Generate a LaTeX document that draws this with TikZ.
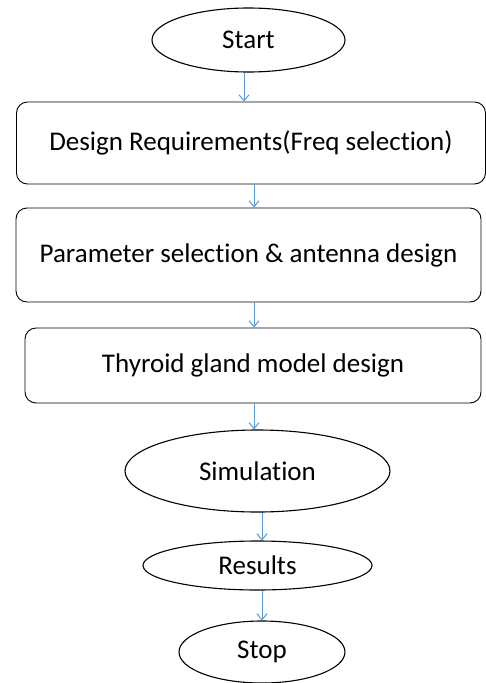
\documentclass[tikz,border=0pt]{standalone}
\usepackage{fontspec}
\setmainfont[Ligatures=NoCommon]{Carlito}
\usetikzlibrary{arrows.meta,shapes.geometric}
\begin{document}
\begin{tikzpicture}[x=1pt,y=-1pt,
  font=\fontsize{27}{31}\selectfont,
  oval/.style={ellipse,draw=black,line width=1.1pt,inner sep=0pt},
  rbox/.style={rectangle,rounded corners=11pt,draw=black,line width=0.9pt,inner sep=0pt},
  arr/.style={draw={rgb,255:red,91;green,155;blue,213},line width=1pt,-{Straight Barb[length=6pt,width=10pt]}}]
\useasboundingbox[fill=white] (0,0) rectangle (486,683);
\node[oval,minimum width=193pt,minimum height=64pt] (start) at (248.5,40) {Start};
\node[rbox,minimum width=469pt,minimum height=82pt] (b1) at (251,143) {Design Requirements(Freq selection)};
\node[rbox,minimum width=465pt,minimum height=94pt] (b2) at (248.5,255) {Parameter selection \& antenna design};
\node[rbox,minimum width=456pt,minimum height=75pt] (b3) at (253,365.5) {Thyroid gland model design};
\node[oval,minimum width=265pt,minimum height=82pt] (sim) at (257.5,471) {Simulation};
\node[oval,minimum width=229pt,minimum height=49pt] (res) at (257.5,565.5) {Results};
\node[oval,minimum width=166pt,minimum height=62pt] (stop) at (262,652) {Stop};
\draw[arr] ([xshift=-4.5pt]start.south) -- ([xshift=-4.5pt]start.south |- b1.north);
\draw[arr] ([xshift=3pt]b1.south) -- ([xshift=3pt]b1.south |- b2.north);
\draw[arr] ([xshift=5.5pt]b2.south) -- ([xshift=5.5pt]b2.south |- b3.north);
\draw[arr] ([xshift=1pt]b3.south) -- ([xshift=1pt]b3.south |- sim.north);
\draw[arr] ([xshift=4.5pt]sim.south) -- ([xshift=4.5pt]sim.south |- res.north);
\draw[arr] ([xshift=4.5pt]res.south) -- ([xshift=4.5pt]res.south |- stop.north);
\end{tikzpicture}
\end{document}
